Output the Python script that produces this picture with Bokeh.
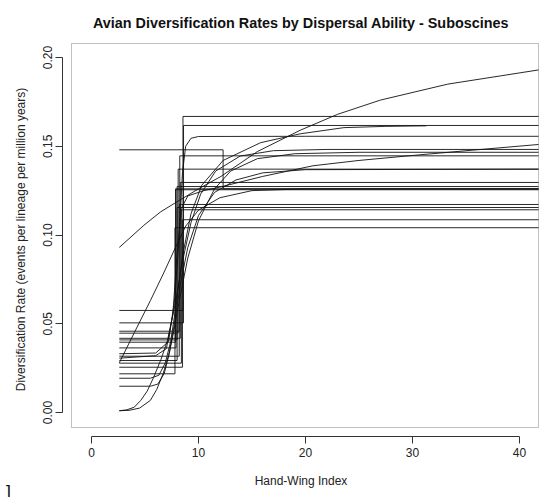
from bokeh.plotting import figure
from bokeh.models import Range1d, BoxAnnotation, Title, FixedTicker
from bokeh.embed import file_html
from bokeh.resources import INLINE

# ---------------- data ----------------
x_start = 2.6
x_end = 41.78

# step-shaped rate curves: low rate, jump position (HWI), high rate
step_low = [0.0575, 0.0505, 0.0458, 0.0447, 0.0418, 0.0409, 0.0396,
            0.0364, 0.0317, 0.0293, 0.0278, 0.0255, 0.0218]
step_jump = [8.55, 8.6, 8.25, 8.1, 8.3, 8.0, 7.85,
             7.9, 8.2, 8.0, 8.4, 8.5, 7.8]
step_high = [0.1668, 0.1617, 0.1446, 0.1371, 0.1296, 0.1273, 0.1260,
             0.1255, 0.1172, 0.1155, 0.1142, 0.1086, 0.1041]

# one curve that steps down
drop_x = [2.6, 12.3, 41.78]
drop_y = [0.148, 0.126, 0.126]

# smooth curves
curve_a_x = [2.6, 4.9, 6.45, 7.8, 10.0, 12.1, 15.5, 19.5, 23.0, 27.0, 33.3, 41.78]
curve_a_y = [0.093, 0.1055, 0.113, 0.118, 0.126, 0.133, 0.147, 0.159, 0.168, 0.176, 0.185, 0.193]

curve_b_x = [2.6, 5.5, 6.3, 6.9, 7.4, 7.9, 8.5, 9.3, 10.3, 12.3, 15.8, 19.5, 23.6, 27.5, 31.3]
curve_b_y = [0.0193, 0.0193, 0.021, 0.028, 0.040, 0.060, 0.088, 0.112, 0.128, 0.142, 0.152, 0.157, 0.1605, 0.1612, 0.1615]

curve_c_x = [2.6, 6.0, 7.2, 7.8, 8.2, 8.5, 8.8, 9.3, 10.0, 20.0, 41.78]
curve_c_y = [0.0331, 0.0335, 0.040, 0.065, 0.100, 0.135, 0.150, 0.1545, 0.1555, 0.1556, 0.1556]

curve_d_x = [2.6, 6.0, 7.0, 7.6, 8.0, 8.4, 9.0, 10.5, 12.0, 16.0, 20.7, 25.0, 30.0, 36.0, 41.78]
curve_d_y = [0.0306, 0.032, 0.036, 0.055, 0.090, 0.115, 0.122, 0.125, 0.127, 0.133, 0.139, 0.142, 0.1448, 0.148, 0.151]

curve_e_x = [2.6, 3.3, 4.0, 4.6, 5.2, 5.8, 6.5, 7.1, 7.85, 8.5, 9.3, 10.2, 11.6, 13.9, 17.0, 22.0, 41.78]
curve_e_y = [0.001, 0.0015, 0.003, 0.0068, 0.012, 0.0197, 0.030, 0.0406, 0.062, 0.085, 0.107, 0.123, 0.136, 0.1445, 0.1475, 0.1482, 0.1482]

curve_f_x = [2.6, 3.5, 4.5, 5.5, 6.1, 6.7, 7.2, 7.7, 8.3, 9.0, 10.0, 11.5, 13.0, 15.5, 19.0, 25.0, 41.78]
curve_f_y = [0.001, 0.0012, 0.0025, 0.0068, 0.013, 0.022, 0.032, 0.046, 0.066, 0.087, 0.108, 0.126, 0.136, 0.143, 0.1458, 0.1466, 0.1466]

curve_h_x = [2.6, 5.5, 6.2, 6.8, 7.3, 7.8, 8.3, 9.0, 10.0, 11.5, 13.5, 16.0, 20.0, 41.78]
curve_h_y = [0.0148, 0.0148, 0.016, 0.022, 0.034, 0.052, 0.072, 0.093, 0.111, 0.124, 0.131, 0.135, 0.1368, 0.1371]

curve_l_x = [2.6, 4.0, 5.5, 6.7, 7.85, 8.8, 10.0, 12.0, 15.0, 20.0, 41.78]
curve_l_y = [0.028, 0.045, 0.063, 0.078, 0.093, 0.105, 0.114, 0.121, 0.125, 0.126, 0.126]

x_ticks = [0, 10, 20, 30, 40]
y_ticks = [0.0, 0.05, 0.10, 0.15, 0.20]
y_tick_labels = ["0.00", "0.05", "0.10", "0.15", "0.20"]

title_text = "Avian Diversification Rates by Dispersal Ability - Suboscines"
x_label = "Hand-Wing Index"
y_label = "Diversification Rate (events per lineage per million years)"
corner_mark = "]"

# ---------------- figure ----------------
FONT = "Liberation Sans"
TXT = "#222222"

p = figure(width=541, height=497, output_backend="svg", toolbar_location=None,
           x_range=Range1d(-2.710, 41.869), y_range=Range1d(-0.01352, 0.20845),
           min_border_left=62, min_border_right=2, min_border_top=42, min_border_bottom=61,
           title=title_text)
p.background_fill_color = "white"
p.border_fill_color = "white"
p.outline_line_color = None
p.xgrid.visible = False
p.ygrid.visible = False

p.title.text_font = FONT
p.title.text_font_size = "14.4px"
p.title.text_font_style = "bold"
p.title.text_color = "#111111"
p.title.align = "center"
p.title.offset = 4
p.title.standoff = 24

# plotting box (R-style box, axes detached from it)
p.add_layout(BoxAnnotation(left=-1.869, right=41.776, bottom=-0.00845, top=0.20789,
                           fill_alpha=0, line_color="#333333", line_width=1))

for ax in (p.xaxis[0], p.yaxis[0]):
    ax.axis_line_color = "#333333"
    ax.major_tick_line_color = "#333333"
    ax.major_tick_out = 7
    ax.major_tick_in = 0
    ax.minor_tick_line_color = None
    ax.major_label_text_font = FONT
    ax.major_label_text_font_size = "12px"
    ax.major_label_text_color = TXT
    ax.axis_label_text_font = FONT
    ax.axis_label_text_font_size = "12px"
    ax.axis_label_text_font_style = "normal"
    ax.axis_label_text_color = TXT

p.xaxis.ticker = FixedTicker(ticks=x_ticks)
p.xaxis.bounds = (x_ticks[0], x_ticks[-1])
p.xaxis.axis_label = x_label
p.xaxis.major_label_standoff = 4
p.xaxis.axis_label_standoff = 14

p.yaxis.ticker = FixedTicker(ticks=y_ticks)
p.yaxis.bounds = (y_ticks[0], y_ticks[-1])
p.yaxis.major_label_overrides = {t: s for t, s in zip(y_ticks, y_tick_labels)}
p.yaxis.major_label_orientation = "parallel"
p.yaxis.axis_label = y_label
p.yaxis.major_label_standoff = 3
p.yaxis.axis_label_standoff = 13

LC = "#111111"
LW = 0.9
for lo, jx, hi in zip(step_low, step_jump, step_high):
    p.step([x_start, jx, x_end], [lo, hi, hi], mode="after", line_color=LC, line_width=LW)

p.step(drop_x, drop_y, mode="after", line_color=LC, line_width=LW)

for cx, cy in [(curve_a_x, curve_a_y), (curve_b_x, curve_b_y), (curve_c_x, curve_c_y),
               (curve_d_x, curve_d_y), (curve_e_x, curve_e_y), (curve_f_x, curve_f_y),
               (curve_h_x, curve_h_y), (curve_l_x, curve_l_y)]:
    p.line(cx, cy, line_color=LC, line_width=LW)

# stray bracket at the bottom-left corner of the reference image
p.add_layout(Title(text=corner_mark, align="left", offset=-58, standoff=-19,
                   text_font="DejaVu Sans", text_font_size="17px",
                   text_font_style="normal", text_color="#111111"), "below")

open("out.html", "w").write(file_html(p, INLINE))
